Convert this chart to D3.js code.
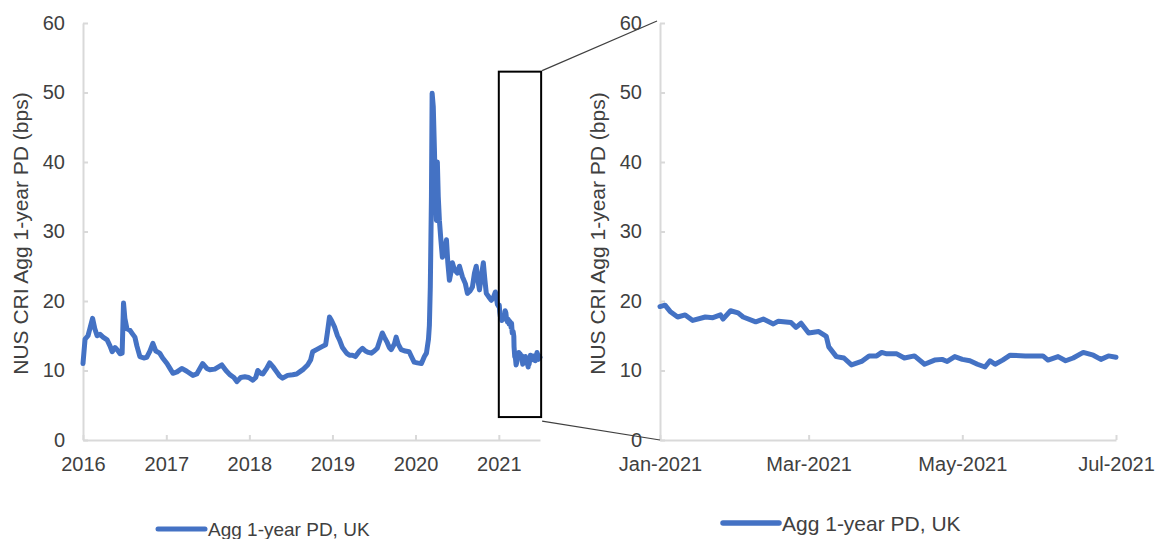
<!DOCTYPE html>
<html>
<head>
<meta charset="utf-8">
<script src="https://cdn.jsdelivr.net/npm/d3@7"></script>
<style>
  html, body { margin: 0; padding: 0; background: #ffffff; }
  svg { display: block; }
  text { font-family: "Liberation Sans", Arial, sans-serif; fill: #404040; }
</style>
</head>
<body>
<svg id="chart" width="1157" height="539"></svg>
<script>
// ---------- DATA ----------
const seriesName = "Agg 1-year PD, UK";
const yTitle = "NUS CRI Agg 1-year PD (bps)";
const yTicks = [0, 10, 20, 30, 40, 50, 60];
const leftTickDates = ["2016-01-01", "2017-01-01", "2018-01-01", "2019-01-01", "2020-01-01", "2021-01-01"];
const rightTickDates = ["2021-01-01", "2021-03-01", "2021-05-01", "2021-07-01"];

// 2016 - 2020 history (left panel only)
const histDates = [
  "2016-01-01","2016-01-10","2016-01-23","2016-01-31","2016-02-12","2016-02-22","2016-03-03","2016-03-16","2016-03-29",
  "2016-04-16","2016-04-29","2016-05-08","2016-05-21","2016-05-30","2016-06-12","2016-06-21","2016-06-27","2016-07-03",
  "2016-07-12","2016-07-25","2016-08-07","2016-08-16","2016-08-25","2016-09-07","2016-09-24","2016-10-07","2016-10-21",
  "2016-11-03","2016-11-16","2016-12-03","2016-12-16",
  "2017-01-04","2017-01-17","2017-01-30","2017-02-17","2017-03-10","2017-04-01","2017-04-28","2017-05-15","2017-06-10",
  "2017-06-28","2017-07-11","2017-08-02","2017-09-02","2017-09-20","2017-10-07","2017-10-25","2017-11-07","2017-11-24",
  "2017-12-12","2017-12-29",
  "2018-01-16","2018-01-29","2018-02-07","2018-02-20","2018-03-01","2018-03-18","2018-03-31","2018-04-18","2018-05-01",
  "2018-05-14","2018-05-27","2018-06-18","2018-07-10","2018-07-28","2018-08-10","2018-08-27","2018-09-14","2018-09-27",
  "2018-10-06","2018-10-23","2018-11-14","2018-12-02","2018-12-10","2018-12-19","2018-12-28",
  "2019-01-10","2019-01-23","2019-02-01","2019-02-14","2019-03-04","2019-03-17","2019-03-30","2019-04-12","2019-04-30",
  "2019-05-13","2019-05-26","2019-06-08","2019-06-21","2019-07-04","2019-07-17","2019-07-30","2019-08-08","2019-08-17",
  "2019-08-30","2019-09-08","2019-09-16","2019-09-30","2019-10-08","2019-10-17","2019-10-30","2019-11-17","2019-12-04",
  "2019-12-17","2019-12-26",
  "2020-01-09","2020-01-27","2020-02-09","2020-02-18","2020-02-27","2020-03-02","2020-03-06","2020-03-11","2020-03-14",
  "2020-03-19","2020-03-24","2020-03-28","2020-04-02","2020-04-06","2020-04-10","2020-04-15","2020-04-21","2020-04-28",
  "2020-05-07","2020-05-16","2020-05-22","2020-05-29","2020-06-07","2020-06-11","2020-06-20","2020-07-03","2020-07-12",
  "2020-07-25","2020-08-07","2020-08-16","2020-08-29","2020-09-07","2020-09-16","2020-09-24","2020-10-01","2020-10-08",
  "2020-10-16","2020-10-25","2020-11-01","2020-11-07","2020-11-20","2020-11-29","2020-12-08","2020-12-17","2020-12-26"
];
const histValues = [
  11.0,14.5,15.0,16.0,17.5,16.0,15.0,15.2,14.8,
  14.4,13.5,12.7,13.3,13.0,12.4,12.5,19.7,17.5,
  16.0,15.8,15.2,14.8,13.5,12.0,11.8,11.9,12.8,
  13.9,12.8,12.5,11.8,
  11.0,10.3,9.6,9.8,10.3,9.9,9.3,9.5,11.0,
  10.3,10.1,10.2,10.8,10.0,9.4,9.0,8.4,9.0,
  9.1,9.0,
  8.6,9.0,10.0,9.6,9.5,10.3,11.1,10.4,9.8,
  9.2,8.9,9.3,9.4,9.5,9.8,10.2,10.8,11.5,
  12.7,13.0,13.4,13.7,15.5,17.7,17.2,
  16.3,15.0,14.4,13.3,12.5,12.2,12.2,12.0,12.8,
  13.2,12.8,12.6,12.5,12.8,13.2,14.5,15.4,14.8,
  14.0,13.3,13.0,13.8,14.8,13.8,13.0,12.8,12.7,
  11.8,11.2,
  11.1,11.0,12.0,12.5,14.5,16.5,22.0,35.0,49.9,
  48.0,42.0,36.0,31.6,40.0,35.0,31.6,29.0,26.3,
  27.0,28.8,25.5,23.0,24.5,25.5,24.5,24.0,25.0,
  23.5,22.5,21.1,21.5,22.0,24.0,25.0,23.0,21.6,
  23.5,25.5,23.0,21.1,20.5,20.1,20.5,21.3,19.5
];

// H1 2021 (zoomed right panel; also the tail of the left panel)
const zoomDates = [
  "2021-01-01","2021-01-03","2021-01-05","2021-01-08","2021-01-11","2021-01-14","2021-01-19","2021-01-22","2021-01-25",
  "2021-01-26","2021-01-29","2021-02-01","2021-02-03","2021-02-08","2021-02-11","2021-02-15","2021-02-17","2021-02-22",
  "2021-02-24","2021-02-26","2021-03-01","2021-03-05","2021-03-08","2021-03-09","2021-03-12","2021-03-15","2021-03-18",
  "2021-03-22","2021-03-25","2021-03-28","2021-03-30","2021-04-01","2021-04-05","2021-04-08","2021-04-12","2021-04-16",
  "2021-04-20","2021-04-23","2021-04-25","2021-04-28","2021-05-01","2021-05-04","2021-05-07","2021-05-10","2021-05-12",
  "2021-05-14","2021-05-17","2021-05-20","2021-05-26","2021-06-02","2021-06-04","2021-06-08","2021-06-11","2021-06-14",
  "2021-06-18","2021-06-22","2021-06-25","2021-06-28","2021-07-01"
];
const zoomValues = [
  19.2,19.4,18.5,17.7,18.0,17.2,17.7,17.6,18.0,
  17.4,18.6,18.3,17.7,17.0,17.4,16.7,17.1,16.9,
  16.2,16.8,15.4,15.6,14.9,13.4,12.0,11.8,10.8,
  11.3,12.1,12.1,12.6,12.4,12.4,11.8,12.1,10.9,
  11.5,11.6,11.3,12.0,11.6,11.4,10.9,10.5,11.4,
  10.9,11.5,12.2,12.1,12.1,11.5,12.0,11.4,11.8,
  12.6,12.2,11.6,12.1,11.9
];

// zoom box extent (in data units of the left panel)
const boxDates = ["2021-01-01", "2021-07-06"];
const boxValues = [53, 3.3];

// ---------- DRAW ----------
const parse = d3.timeParse("%Y-%m-%d");
const hist = histDates.map((d, i) => ({ date: parse(d), value: histValues[i] }));
const zoom = zoomDates.map((d, i) => ({ date: parse(d), value: zoomValues[i] }));
const full = hist.concat(zoom);

const svg = d3.select("#chart");
const axisColor = "#d9d9d9";
const lineColor = "#4472c4";

const yTop = 23, yBottom = 440;

const L = { x0: 83, x1: 540 };
const R = { x0: 660, x1: 1116 };

const xL = d3.scaleTime().domain([parse("2016-01-01"), parse("2021-07-01")]).range([L.x0, L.x1]);
const xR = d3.scaleTime().domain([parse("2021-01-01"), parse("2021-07-01")]).range([R.x0, R.x1]);
const yL = d3.scaleLinear().domain([0, 60]).range([yBottom, yTop]);
const yR = d3.scaleLinear().domain([0, 60]).range([yBottom, yTop]);

function styleAxis(g) {
  g.select(".domain").attr("stroke", axisColor).attr("stroke-width", 2);
  g.selectAll(".tick line").attr("stroke", axisColor).attr("stroke-width", 2);
  g.selectAll(".tick text").attr("fill", "#404040").style("font-family", '"Liberation Sans", Arial, sans-serif');
}

function panel(x, y, ticksX, fmt, xr, data, strokeW, titleX, tickFont) {
  // x axis
  const gx = svg.append("g").attr("transform", `translate(0,${yBottom})`)
    .call(d3.axisBottom(x).tickValues(ticksX.map(parse)).tickFormat(fmt)
      .tickSizeInner(-5).tickSizeOuter(0).tickPadding(17));
  gx.selectAll(".tick text").style("font-size", tickFont + "px");
  styleAxis(gx);
  // y axis
  const gy = svg.append("g").attr("transform", `translate(${xr.x0},0)`)
    .call(d3.axisLeft(y).tickValues(yTicks).tickSizeInner(-5).tickSizeOuter(0).tickPadding(18));
  gy.selectAll(".tick text").style("font-size", tickFont + "px");
  styleAxis(gy);
  // title
  svg.append("text")
    .attr("transform", `translate(${titleX},${(yTop + yBottom) / 2 + 2}) rotate(-90)`)
    .attr("text-anchor", "middle").attr("dy", "0.35em")
    .style("font-size", "21px").text(yTitle);
  // line
  svg.append("path").datum(data)
    .attr("fill", "none").attr("stroke", lineColor).attr("stroke-width", strokeW)
    .attr("stroke-linejoin", "round").attr("stroke-linecap", "round")
    .attr("d", d3.line().x(d => x(d.date)).y(d => y(d.value)));
}

panel(xL, yL, leftTickDates, d3.timeFormat("%Y"), L, full, 5, 21, 20);
panel(xR, yR, rightTickDates, d3.timeFormat("%b-%Y"), R, zoom, 5, 598, 20);

// zoom box
const bx0 = xL(parse(boxDates[0])), bx1 = xL(parse(boxDates[1]));
const by0 = yL(boxValues[0]), by1 = yL(boxValues[1]);
svg.append("rect").attr("x", bx0).attr("y", by0).attr("width", bx1 - bx0).attr("height", by1 - by0)
  .attr("fill", "none").attr("stroke", "#000").attr("stroke-width", 2);
svg.append("line").attr("x1", bx1 + 1).attr("y1", by0 - 1).attr("x2", xR.range()[0] - 3).attr("y2", yR(60) - 2)
  .attr("stroke", "#404040").attr("stroke-width", 1.2);
svg.append("line").attr("x1", bx1 + 1).attr("y1", by1 + 4).attr("x2", xR.range()[0]).attr("y2", yR(0))
  .attr("stroke", "#404040").attr("stroke-width", 1.2);

// legends
function legend(x0, x1, yy, fs, sw) {
  svg.append("line").attr("x1", x0).attr("x2", x1).attr("y1", yy).attr("y2", yy)
    .attr("stroke", lineColor).attr("stroke-width", sw).attr("stroke-linecap", "round");
  svg.append("text").attr("x", x1 + 3).attr("y", yy).attr("dy", "0.36em")
    .style("font-size", fs + "px").text(seriesName);
}
legend(158, 205, 529, 19, 5);
legend(723, 779, 523, 21, 5.5);
</script>
</body>
</html>
